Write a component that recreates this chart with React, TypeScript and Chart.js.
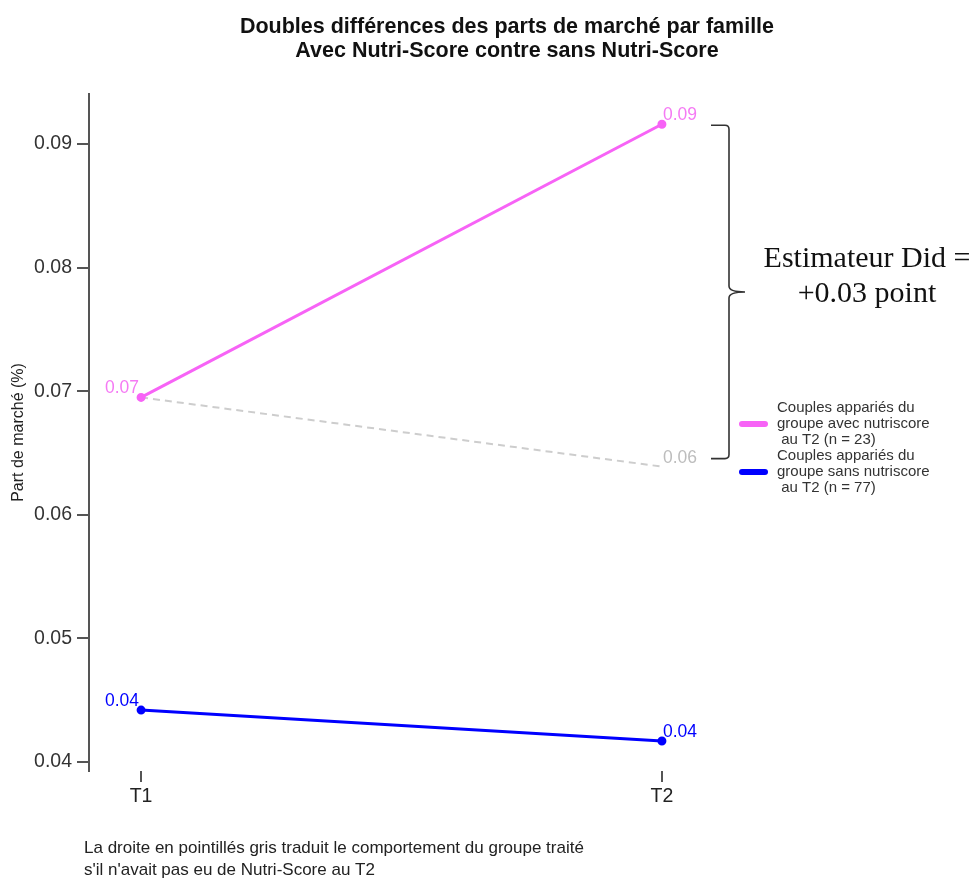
import React, { useEffect, useRef } from 'react';
import { Chart, registerables } from 'chart.js';

Chart.register(...registerables);

// ---- Data ----
const categories = ['T1', 'T2'];
const xPositions = [1, 2];
const avecNutriScore = [0.0695, 0.0916];
const sansNutriScore = [0.0442, 0.0417];
const contrefactuel = [0.0695, 0.0639];
const avecLabels = ['0.07', '0.09'];
const sansLabels = ['0.04', '0.04'];
const contrefactuelLabels = ['', '0.06'];
const yTicks = [0.04, 0.05, 0.06, 0.07, 0.08, 0.09];
const yTickLabels = ['0.04', '0.05', '0.06', '0.07', '0.08', '0.09'];

// ---- Texts ----
const titleLines = [
  'Doubles différences des parts de marché par famille',
  'Avec Nutri-Score contre sans Nutri-Score',
];
const yAxisTitle = 'Part de marché (%)';
const legendAvec = ['Couples appariés du', 'groupe avec nutriscore', ' au T2 (n = 23)'];
const legendSans = ['Couples appariés du', 'groupe sans nutriscore', ' au T2 (n = 77)'];
const didLines = ['Estimateur Did =', '+0.03 point'];
const footnoteLines = [
  'La droite en pointillés gris traduit le comportement du groupe traité',
  "s'il n'avait pas eu de Nutri-Score au T2",
];

// ---- Styles ----
const PINK = '#f763f6';
const PINK_LABEL = '#f57af4';
const BLUE = '#0000ff';
const GRAY = '#cdcdcd';
const GRAY_LABEL = '#bdbdbd';
const AXIS = '#555555';
const SANS = '"Liberation Sans", Arial, sans-serif';
const SERIF = '"Liberation Serif", "Times New Roman", serif';

const labelSets = [avecLabels, sansLabels, contrefactuelLabels];
const labelColors = [PINK_LABEL, BLUE, GRAY_LABEL];

const decorPlugin = {
  id: 'decor',
  afterDraw(chart: any) {
    const ctx = chart.ctx as CanvasRenderingContext2D;
    const area = chart.chartArea;
    const yScale = chart.scales.y;
    ctx.save();

    // Title
    ctx.fillStyle = '#111';
    ctx.font = `bold 21.5px ${SANS}`;
    ctx.textAlign = 'center';
    ctx.textBaseline = 'alphabetic';
    titleLines.forEach((t, i) => ctx.fillText(t, 507, 33 + i * 24));

    // Data labels
    ctx.font = `17.5px ${SANS}`;
    chart.data.datasets.forEach((ds: any, di: number) => {
      const meta = chart.getDatasetMeta(di);
      meta.data.forEach((pt: any, i: number) => {
        const txt = labelSets[di][i];
        if (!txt) return;
        ctx.fillStyle = labelColors[di];
        if (i === 0) {
          ctx.textAlign = 'right';
          ctx.fillText(txt, pt.x - 2, pt.y - 4);
        } else {
          ctx.textAlign = 'left';
          ctx.fillText(txt, pt.x + 1, pt.y - 4);
        }
      });
    });

    // Brace
    const top = yScale.getPixelForValue(avecNutriScore[1]) + 1;
    const bottom = yScale.getPixelForValue(contrefactuel[1]) - 8;
    const bx = area.right + 15;
    const x0 = area.right - 3;
    const mid = (top + bottom) / 2;
    ctx.strokeStyle = '#333';
    ctx.lineWidth = 1.6;
    ctx.beginPath();
    ctx.moveTo(x0, top);
    ctx.lineTo(bx - 4, top);
    ctx.quadraticCurveTo(bx, top, bx, top + 4);
    ctx.lineTo(bx, mid - 6);
    ctx.quadraticCurveTo(bx, mid, bx + 16, mid);
    ctx.moveTo(bx + 16, mid);
    ctx.quadraticCurveTo(bx, mid, bx, mid + 6);
    ctx.lineTo(bx, bottom - 4);
    ctx.quadraticCurveTo(bx, bottom, bx - 4, bottom);
    ctx.lineTo(x0, bottom);
    ctx.stroke();

    // DiD annotation
    ctx.fillStyle = '#111';
    ctx.font = `30px ${SERIF}`;
    ctx.textAlign = 'center';
    ctx.fillText(didLines[0], bx + 138, mid - 24.5);
    ctx.fillText(didLines[1], bx + 138, mid + 10.5);

    // Legend
    const legendTop = area.top + 314;
    const mx0 = area.right + 28;
    const mx1 = area.right + 51;
    const tx = area.right + 63;
    ctx.font = `15px ${SANS}`;
    ctx.textAlign = 'left';
    ctx.textBaseline = 'middle';
    const groups = [
      { lines: legendAvec, color: PINK },
      { lines: legendSans, color: BLUE },
    ];
    groups.forEach((g, gi) => {
      const base = legendTop + gi * 48;
      ctx.strokeStyle = g.color;
      ctx.lineWidth = 6;
      ctx.lineCap = 'round';
      ctx.beginPath();
      ctx.moveTo(mx0, base + 16);
      ctx.lineTo(mx1, base + 16);
      ctx.stroke();
      ctx.fillStyle = '#333';
      g.lines.forEach((l, li) => ctx.fillText(l, tx, base + li * 16));
    });

    // Footnote
    ctx.fillStyle = '#222';
    ctx.font = `17px ${SANS}`;
    ctx.textBaseline = 'alphabetic';
    ctx.textAlign = 'left';
    footnoteLines.forEach((l, i) => ctx.fillText(l, 84, 853 + i * 22));

    ctx.restore();
  },
};

export default function App() {
  const canvasRef = useRef<HTMLCanvasElement | null>(null);

  useEffect(() => {
    if (!canvasRef.current) return;
    const toPoints = (arr: number[]) => arr.map((v, i) => ({ x: xPositions[i], y: v }));
    const chart = new Chart(canvasRef.current, {
      type: 'line',
      data: {
        datasets: [
          {
            label: 'Couples appariés du groupe avec nutriscore au T2 (n = 23)',
            data: toPoints(avecNutriScore),
            borderColor: PINK,
            backgroundColor: PINK,
            borderWidth: 3,
            pointRadius: 3,
            pointHoverRadius: 3,
          },
          {
            label: 'Couples appariés du groupe sans nutriscore au T2 (n = 77)',
            data: toPoints(sansNutriScore),
            borderColor: BLUE,
            backgroundColor: BLUE,
            borderWidth: 3,
            pointRadius: 3,
            pointHoverRadius: 3,
          },
          {
            label: 'Contrefactuel',
            data: toPoints(contrefactuel),
            borderColor: GRAY,
            backgroundColor: GRAY,
            borderWidth: 2,
            borderDash: [7, 5],
            pointRadius: 0,
          },
        ],
      },
      options: {
        animation: false,
        responsive: true,
        maintainAspectRatio: false,
        layout: { padding: { top: 94, right: 262, bottom: 68, left: 0 } },
        plugins: {
          legend: { display: false },
          tooltip: { enabled: false },
          title: { display: false },
        },
        scales: {
          x: {
            type: 'linear',
            min: 0.9,
            max: 2.1,
            afterBuildTicks: (s: any) => {
              s.ticks = xPositions.map((v) => ({ value: v }));
            },
            afterFit: (s: any) => {
              s.height = 40;
            },
            ticks: {
              autoSkip: false,
              maxRotation: 0,
              padding: 3,
              color: '#222',
              font: { family: SANS, size: 19.5 },
              callback: (v: any) => {
                const idx = xPositions.indexOf(Number(v));
                return idx >= 0 ? categories[idx] : '';
              },
            },
            grid: {
              drawOnChartArea: false,
              drawTicks: true,
              tickLength: 11,
              color: AXIS,
              lineWidth: 2,
            },
            border: { display: false },
          },
          y: {
            type: 'linear',
            min: 0.03927,
            max: 0.09405,
            afterBuildTicks: (s: any) => {
              s.ticks = yTicks.map((v) => ({ value: v }));
            },
            afterFit: (s: any) => {
              s.width = 89;
            },
            ticks: {
              padding: 5,
              color: '#333',
              font: { family: SANS, size: 19.5 },
              callback: (v: any) => {
                const idx = yTicks.findIndex((t) => Math.abs(t - Number(v)) < 1e-9);
                return idx >= 0 ? yTickLabels[idx] : '';
              },
            },
            grid: {
              drawOnChartArea: false,
              drawTicks: true,
              tickLength: 12,
              color: AXIS,
              lineWidth: 2,
            },
            border: { display: true, color: AXIS, width: 2 },
            title: {
              display: true,
              text: yAxisTitle,
              color: '#222',
              font: { family: SANS, size: 16 },
              padding: { top: 9, bottom: 0 },
            },
          },
        },
      },
      plugins: [decorPlugin],
    });
    return () => chart.destroy();
  }, []);

  return (
    <div style={{ position: 'fixed', left: 0, top: 0, width: 976, height: 879, background: '#fff' }}>
      <canvas ref={canvasRef} />
    </div>
  );
}
